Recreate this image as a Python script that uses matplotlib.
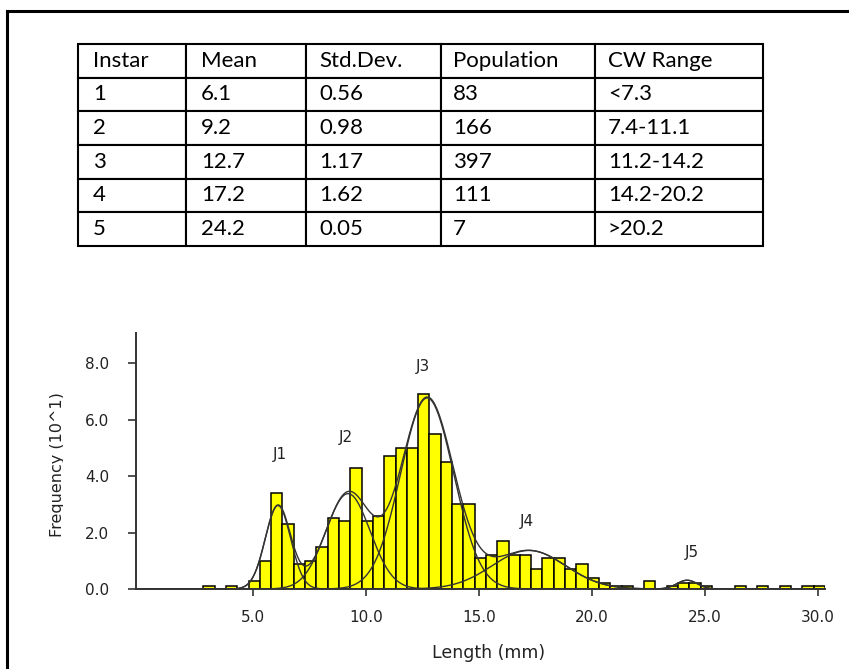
import numpy as np
import matplotlib
matplotlib.use("Agg")
import matplotlib.pyplot as plt
from matplotlib.lines import Line2D
from matplotlib.patches import Rectangle

# ---------------- data ----------------
table_headers = ["Instar", "Mean", "Std.Dev.", "Population", "CW Range"]
instars = ["1", "2", "3", "4", "5"]
means = [6.1, 9.2, 12.7, 17.2, 24.2]
std_dev = [0.56, 0.98, 1.17, 1.62, 0.05]
population = [83, 166, 397, 111, 7]
cw_range = ["<7.3", "7.4-11.1", "11.2-14.2", "14.2-20.2", ">20.2"]
mean_txt = ["6.1", "9.2", "12.7", "17.2", "24.2"]
sd_txt = ["0.56", "0.98", "1.17", "1.62", "0.05"]

# histogram (bin width 0.5 mm), frequency in units of 10
bin_left = [2.8, 3.3, 3.8, 4.3, 4.8, 5.3, 5.8, 6.3, 6.8, 7.3, 7.8, 8.3, 8.8,
            9.3, 9.8, 10.3, 10.8, 11.3, 11.8, 12.3, 12.8, 13.3, 13.8, 14.3,
            14.8, 15.3, 15.8, 16.3, 16.8, 17.3, 17.8, 18.3, 18.8, 19.3, 19.8,
            20.3, 20.8, 21.3, 21.8, 22.3, 22.8, 23.3, 23.8, 24.3, 24.8, 25.3,
            25.8, 26.3, 26.8, 27.3, 27.8, 28.3, 28.8, 29.3, 29.8]
freq = [0.1, 0.0, 0.1, 0.0, 0.3, 1.0, 3.4, 2.3, 0.9, 1.0, 1.5, 2.5, 2.4,
        4.3, 2.4, 2.6, 4.7, 5.0, 5.0, 6.9, 5.5, 4.5, 3.0, 3.0,
        1.1, 1.2, 1.7, 1.2, 1.2, 0.7, 1.1, 1.1, 0.7, 0.9, 0.4,
        0.2, 0.1, 0.1, 0.0, 0.3, 0.0, 0.1, 0.2, 0.2, 0.1, 0.0,
        0.0, 0.1, 0.0, 0.1, 0.0, 0.1, 0.0, 0.1, 0.1]
bin_width = 0.5

# spread of the fitted curves as drawn (J5 curve is drawn wider than its table SD)
curve_sd = [0.56, 0.98, 1.17, 1.62, 0.45]
curve_labels = ["J1", "J2", "J3", "J4", "J5"]
label_x = [6.2, 9.1, 12.5, 17.1, 24.4]
label_y = [4.75, 5.35, 7.9, 2.4, 1.3]

x_ticks = [5, 10, 15, 20, 25, 30]
y_ticks = [0, 2, 4, 6, 8]

# ---------------- figure ----------------
W, H = 849, 669
fig = plt.figure(figsize=(W / 100, H / 100), dpi=100)
fig.patch.set_facecolor("white")

# outer frame (left and top edges)
fig.add_artist(Line2D([7 / W, 7 / W], [0, 1 - 11 / H], transform=fig.transFigure,
                      color="black", lw=2.2, solid_capstyle="projecting"))
fig.add_artist(Line2D([7 / W, 1], [1 - 11 / H, 1 - 11 / H], transform=fig.transFigure,
                      color="black", lw=2.2, solid_capstyle="projecting"))

# ---------------- table ----------------
tab_left, tab_right, tab_top, tab_bot = 78, 763, 44, 246
tab_ax = fig.add_axes([tab_left / W, 1 - tab_bot / H, (tab_right - tab_left) / W,
                       (tab_bot - tab_top) / H])
tab_ax.axis("off")
col_px = [108, 120, 135, 154, 168]
pad_px = [15, 15, 13, 12, 13]
cell_text = [[instars[i], mean_txt[i], sd_txt[i], str(population[i]), cw_range[i]]
             for i in range(len(instars))]
tbl = tab_ax.table(cellText=cell_text, colLabels=table_headers, cellLoc="left",
                   colLoc="left", bbox=[0, 0, 1, 1],
                   colWidths=[c / sum(col_px) for c in col_px])
tbl.auto_set_font_size(False)
for (r, c), cell in tbl.get_celld().items():
    cell.set_linewidth(1.5)
    cell.set_edgecolor("black")
    cell.PAD = pad_px[c] / col_px[c]
    cell.get_text().set_fontsize(16)
    cell.get_text().set_fontfamily("Lato")
    cell.get_text().set_color("black")

# ---------------- histogram ----------------
ax_l, ax_r, ax_t, ax_b = 136, 825, 333, 589
ax = fig.add_axes([ax_l / W, 1 - ax_b / H, (ax_r - ax_l) / W, (ax_b - ax_t) / H])
ax.set_xlim(-0.18, 30.3)
ax.set_ylim(0, 9.07)

ax.bar(bin_left, freq, width=bin_width, align="edge", color="#FFFF00",
       edgecolor="black", linewidth=1.1, zorder=2)

xs = np.linspace(0, 30.3, 1200)
total = np.zeros_like(xs)
for m, s, n in zip(means, curve_sd, population):
    comp = n * bin_width / 10.0 * np.exp(-0.5 * ((xs - m) / s) ** 2) / (s * np.sqrt(2 * np.pi))
    total += comp
    ax.plot(xs, comp, color="#333333", lw=1.0, zorder=3)
ax.plot(xs, total, color="#333333", lw=1.0, zorder=3)

font = "DejaVu Sans"
txt_col = "#222222"
for lab, lx, ly in zip(curve_labels, label_x, label_y):
    ax.text(lx, ly, lab, ha="center", va="center", fontsize=11, family=font,
            color=txt_col, zorder=4)

for s in ["top", "right"]:
    ax.spines[s].set_visible(False)
for s in ["left", "bottom"]:
    ax.spines[s].set_color("#333333")
    ax.spines[s].set_linewidth(1.4)
    ax.spines[s].set_zorder(5)

ax.set_xticks(x_ticks)
ax.set_xticklabels([f"{v:.1f}" for v in x_ticks], family=font, fontsize=11,
                   color=txt_col)
ax.set_yticks(y_ticks)
ax.set_yticklabels([f"{v:.1f}" for v in y_ticks], family=font, fontsize=11,
                   color=txt_col)
ax.tick_params(axis="x", length=5, width=1.2, color="#333333", pad=10)
ax.tick_params(axis="y", length=5.5, width=1.2, color="#333333", pad=14)

fig.text(489 / W, 1 - 653 / H, "Length (mm)", ha="center", va="center",
         family=font, fontsize=12.5, color=txt_col)

ylab = fig.text(62 / W, 1 - 465 / H, "Frequency (10^1)", rotation=90,
                rotation_mode="anchor", ha="center", va="baseline",
                family=font, fontsize=11.5, color=txt_col)
# descenders are cut off in the original rendering
clip_rect = Rectangle((0, 0), 63 / W, 1, transform=fig.transFigure,
                      facecolor="none", edgecolor="none")
ylab.set_clip_path(clip_rect)
ylab.set_clip_on(True)

fig.savefig("out.png", dpi=100, facecolor="white")
